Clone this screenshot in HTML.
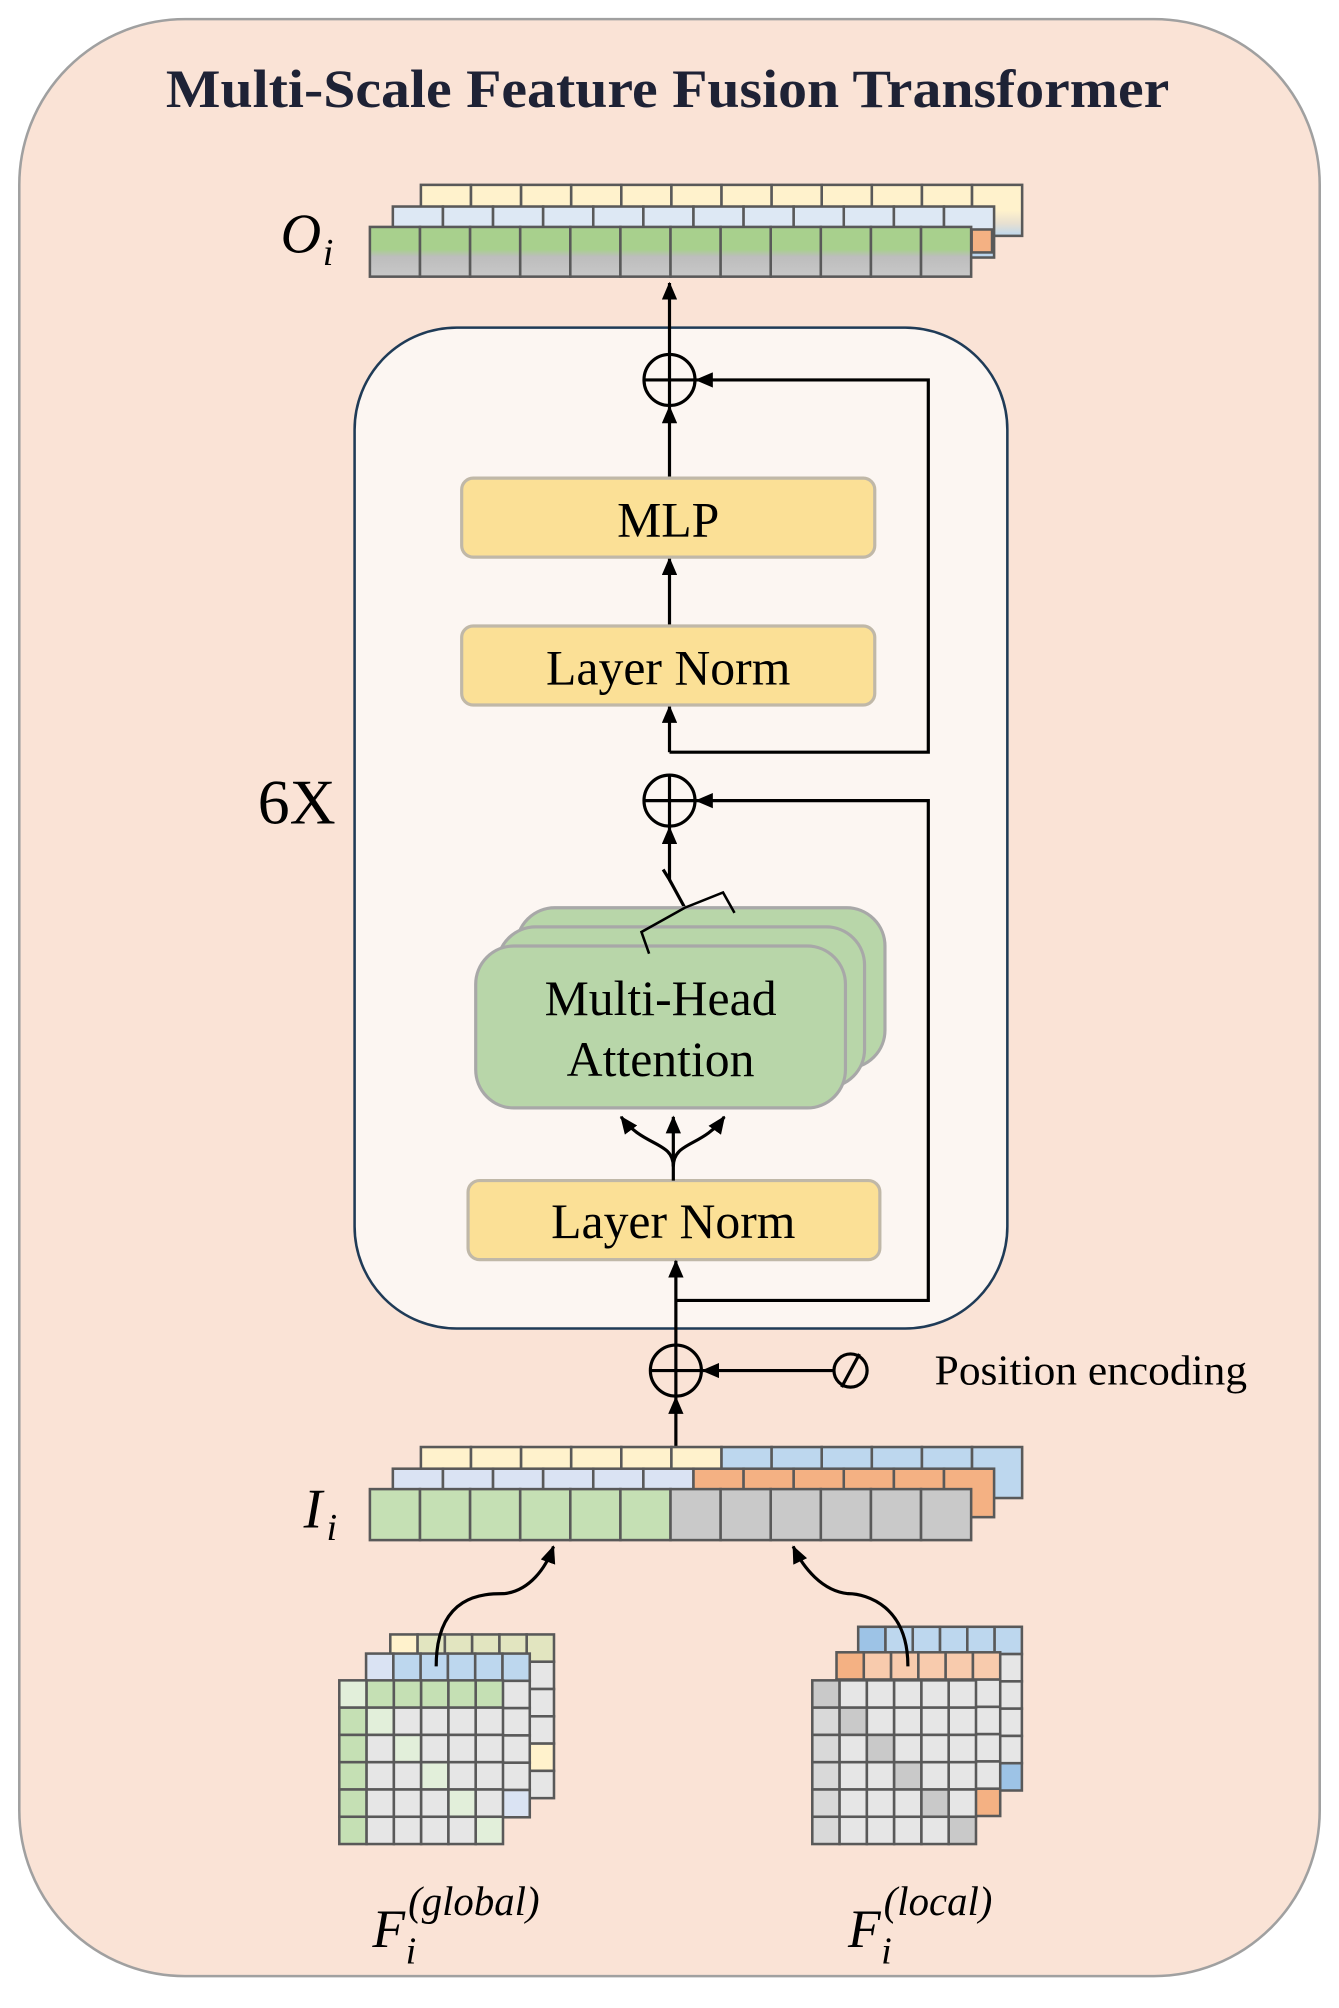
<!DOCTYPE html>
<html><head><meta charset="utf-8">
<style>
html,body{margin:0;padding:0;background:#fff;}
svg{display:block;}
text{font-family:"Liberation Serif",serif;}
</style></head>
<body>
<svg id="s" width="1339" height="2008" viewBox="0 0 1050 1575" xmlns="http://www.w3.org/2000/svg">
<defs>
<marker id="ah" markerWidth="14" markerHeight="12" refX="13" refY="6" orient="auto" markerUnits="userSpaceOnUse">
<path d="M0,0 L14,6 L0,12 z" fill="#000"/>
</marker>
<linearGradient id="gg" x1="0" y1="0" x2="0" y2="1">
<stop offset="0" stop-color="#a8d08d"/><stop offset="0.45" stop-color="#a8d08d"/><stop offset="0.6" stop-color="#bdbdbd"/><stop offset="1" stop-color="#c8c8c8"/>
</linearGradient>
<linearGradient id="bg" x1="0" y1="0" x2="0" y2="1">
<stop offset="0" stop-color="#dde8f4"/><stop offset="0.5" stop-color="#dde8f4"/><stop offset="1" stop-color="#b9d4ee"/>
</linearGradient>
<linearGradient id="yg" x1="0" y1="0" x2="0" y2="1">
<stop offset="0" stop-color="#fff2cc"/><stop offset="0.5" stop-color="#fff2cc"/><stop offset="0.75" stop-color="#e8e0d0"/><stop offset="1" stop-color="#bdd7ee"/>
</linearGradient>
</defs>
<rect x="15" y="15" width="1020" height="1535" rx="130" fill="#fae3d6" stroke="#a0a0a0" stroke-width="2"/>
<text x="130" y="84" font-size="42" font-weight="bold" fill="#1e2235" textLength="787" lengthAdjust="spacingAndGlyphs">Multi-Scale Feature Fusion Transformer</text>
<g id="oi"></g>
<text x="220" y="198" font-size="44" font-style="italic">O</text>
<text x="253" y="208" font-size="30" font-style="italic">i</text>

<rect x="278" y="257" width="512" height="785" rx="80" fill="#fcf6f2" stroke="#1f3b57" stroke-width="2"/>
<text x="202" y="646" font-size="50">6X</text>

<g stroke="#000" stroke-width="2.5" fill="none">
<line x1="525" y1="278" x2="525" y2="222" marker-end="url(#ah)"/>
<circle cx="525" cy="298" r="20"/><line x1="505" y1="298" x2="545" y2="298"/><line x1="525" y1="278" x2="525" y2="318"/>
<line x1="525" y1="375" x2="525" y2="319" marker-end="url(#ah)"/>
<polyline points="525,590 728,590 728,298 546,298" marker-end="url(#ah)"/>
<line x1="525" y1="491" x2="525" y2="438" marker-end="url(#ah)"/>
<line x1="525" y1="590" x2="525" y2="554" marker-end="url(#ah)"/>
<circle cx="525" cy="628" r="20"/><line x1="505" y1="628" x2="545" y2="628"/><line x1="525" y1="608" x2="525" y2="648"/>
<polyline points="530,1020 728,1020 728,628 546,628" marker-end="url(#ah)"/>
<polyline points="520,682 525,690 525,649" marker-end="url(#ah)"/>
<line x1="537" y1="712" x2="525" y2="690"/>
</g>

<rect x="405" y="712" width="289" height="126" rx="30" fill="#b8d6a9" stroke="#a8a8a8" stroke-width="2.5"/>
<rect x="390" y="727" width="288" height="126" rx="30" fill="#b8d6a9" stroke="#a8a8a8" stroke-width="2.5"/>
<rect x="373" y="742" width="290" height="127" rx="30" fill="#b8d6a9" stroke="#a8a8a8" stroke-width="2.5"/>
<g stroke="#000" stroke-width="2" fill="none">
<polyline points="509,748 503,731 537,712 567,700 576,716"/>
</g>
<text x="518" y="796" text-anchor="middle" font-size="39">Multi-Head</text>
<text x="518" y="844" text-anchor="middle" font-size="39">Attention</text>

<rect x="362" y="375" width="324" height="62" rx="9" fill="#fbe096" stroke="#c0b8a8" stroke-width="2.5"/>
<text x="524" y="421" text-anchor="middle" font-size="39">MLP</text>
<rect x="362" y="491" width="324" height="62" rx="9" fill="#fbe096" stroke="#c0b8a8" stroke-width="2.5"/>
<text x="524" y="537" text-anchor="middle" font-size="39">Layer Norm</text>
<rect x="367" y="926" width="323" height="62" rx="9" fill="#fbe096" stroke="#c0b8a8" stroke-width="2.5"/>
<text x="528" y="971" text-anchor="middle" font-size="39">Layer Norm</text>

<g stroke="#000" stroke-width="2.5" fill="none">
<line x1="528" y1="926" x2="528" y2="876" marker-end="url(#ah)"/>
<path d="M528,915 C528,895 505,900 487,876" marker-end="url(#ah)"/>
<path d="M528,915 C528,895 551,900 568,876" marker-end="url(#ah)"/>
<line x1="530" y1="1055" x2="530" y2="989" marker-end="url(#ah)"/>
<circle cx="530" cy="1075" r="20"/><line x1="510" y1="1075" x2="550" y2="1075"/><line x1="530" y1="1055" x2="530" y2="1095"/>
<line x1="654" y1="1075" x2="551" y2="1075" marker-end="url(#ah)"/>
<ellipse cx="667" cy="1075" rx="13" ry="13"/><line x1="660" y1="1088" x2="674" y2="1062"/>
<line x1="530" y1="1135" x2="530" y2="1096" marker-end="url(#ah)"/>
</g>
<text x="733" y="1086" font-size="33" textLength="245" lengthAdjust="spacingAndGlyphs">Position encoding</text>

<g id="ii"></g>
<text x="238" y="1198" font-size="44" font-style="italic">I</text>
<text x="256" y="1208" font-size="30" font-style="italic">i</text>
<g id="grids"></g>
<g stroke="#000" stroke-width="2.5" fill="none">
<path d="M342,1307 C342,1250 380,1250 395,1250 C415,1248 428,1230 434,1213" marker-end="url(#ah)"/>
<path d="M712,1307 C712,1260 680,1250 665,1250 C645,1248 630,1230 622,1213" marker-end="url(#ah)"/>
</g>

<text x="292" y="1527" font-size="42" font-style="italic">F</text>
<text x="318" y="1540" font-size="30" font-style="italic">i</text>
<text x="320" y="1502" font-size="32" font-style="italic">(global)</text>
<text x="665" y="1527" font-size="42" font-style="italic">F</text>
<text x="691" y="1540" font-size="30" font-style="italic">i</text>
<text x="693" y="1502" font-size="32" font-style="italic">(local)</text>
</svg>
<script>
var NS="http://www.w3.org/2000/svg";
function r(g,x,y,w,h,f){var e=document.createElementNS(NS,"rect");e.setAttribute("x",x);e.setAttribute("y",y);e.setAttribute("width",w);e.setAttribute("height",h);e.setAttribute("fill",f);e.setAttribute("stroke","#595959");e.setAttribute("stroke-width","2");g.appendChild(e);}
function row(g,x,y,h,cols){var w=39.3;for(var i=0;i<cols.length;i++)r(g,x+i*w,y,w,h,cols[i]);}
var oi=document.getElementById("oi");
var a=[];for(var i=0;i<12;i++)a.push(i==11?"url(#yg)":"#fff2cc");row(oi,330,145,40,a);
a=[];for(i=0;i<12;i++)a.push(i==11?"url(#bg)":"#dde8f4");row(oi,308,162,40,a);
a=[];for(i=0;i<12;i++)a.push("url(#gg)");row(oi,290,178,39,a);
r(oi,762,180,16,18,"#f4b183");
var ii=document.getElementById("ii");
a=[];for(i=0;i<12;i++)a.push(i<6?"#fff2cc":"#bdd7ee");row(ii,330,1135,40,a);
a=[];for(i=0;i<12;i++)a.push(i<6?"#dae3f3":"#f4b183");row(ii,308,1152,38,a);
a=[];for(i=0;i<12;i++)a.push(i<6?"#c5e0b4":"#c9c9c9");row(ii,290,1168,40,a);
var gr=document.getElementById("grids");
function grid(x,y,c,fn){for(var j=0;j<6;j++)for(var i=0;i<6;i++)r(gr,x+i*c,y+j*c,c,c,fn(i,j));}
var c=21.4;
grid(306,1282,c,function(i,j){if(j==0)return i==0?"#fff2cc":"#e2e5c0";if(i==5&&j==4)return "#fff2cc";return "#e6e6e6";});
grid(287,1297,c,function(i,j){if(j==0)return i==0?"#dae3f3":"#bdd7ee";if(i==5&&j==5)return "#dae3f3";return "#e6e6e6";});
grid(266,1318,c,function(i,j){if(i==j)return "#e2efda";if(j==0||i==0)return "#c5e0b4";return "#e6e6e6";});
grid(673,1276,c,function(i,j){if(j==0)return i==0?"#9dc3e6":"#bdd7ee";if(i==5&&j==5)return "#9dc3e6";return "#e6e6e6";});
grid(656,1296,c,function(i,j){if(j==0)return i==0?"#f4b183":"#f8cbad";if(i==5&&j==5)return "#f4b183";return "#e6e6e6";});
grid(637,1318,c,function(i,j){if(i==j)return "#c9c9c9";if(i==0)return "#d9d9d9";return "#e6e6e6";});
</script>
</body></html>
